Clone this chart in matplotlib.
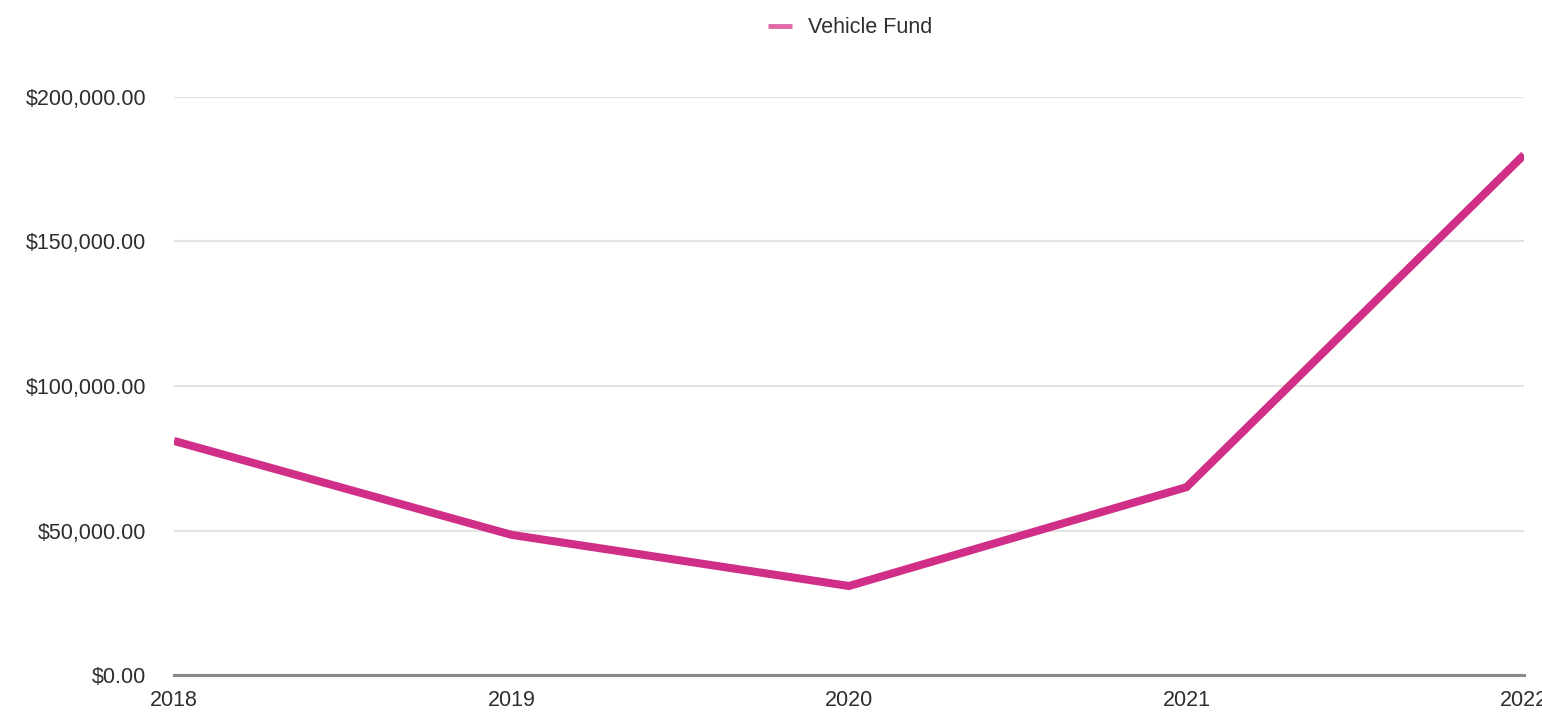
import matplotlib.pyplot as plt
import numpy as np

years = [2018, 2019, 2020, 2021, 2022]
vehicle_fund = [81000, 48500, 30800, 65000, 180000]
yticks = [0, 50000, 100000, 150000, 200000]

plt.rcParams['font.family'] = ['Liberation Sans', 'DejaVu Sans']

fig = plt.figure(figsize=(15.42, 7.12), dpi=100)
ax = fig.add_axes([174/1542, 1-675/712, (1524-174)/1542, (675-97)/712])

ax.plot(years, vehicle_fund, color='#d02e87', linewidth=5.8, solid_capstyle='butt',
        solid_joinstyle='miter', label='Vehicle Fund', zorder=3)

ax.set_xlim(2018, 2022)
ax.set_ylim(0, 200000)
ax.set_xticks(years)
ax.set_yticks(yticks)
ax.set_yticklabels([f'${v:,.2f}' for v in yticks])

ax.grid(True, axis='y', color='#e2e2e2', linewidth=1.5)
ax.set_axisbelow(True)
for s in ['top', 'right', 'left']:
    ax.spines[s].set_visible(False)
ax.spines['bottom'].set_color('#8a8a8a')
ax.spines['bottom'].set_linewidth(2.2)
ax.tick_params(axis='both', length=0, labelsize=15.5, colors='#2e2e2e')
ax.tick_params(axis='y', pad=20)
ax.tick_params(axis='x', pad=11)

# легенда сверху по центру
fig.legend(loc='upper center', bbox_to_anchor=(0.5515, 1.003), frameon=False,
           fontsize=15.5, handlelength=1.1, handletextpad=0.75,
           labelcolor='#2e2e2e')
leg = fig.legends[0]
for l in leg.get_lines():
    l.set_linewidth(3.5)
    l.set_color('#e06aa6')

fig.savefig('out.png', dpi=100)
